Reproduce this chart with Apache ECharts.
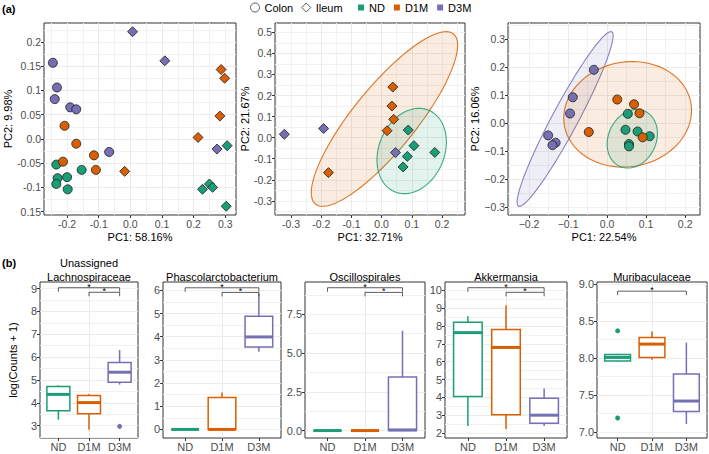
<!doctype html>
<html>
<head>
<meta charset="utf-8">
<title>PCoA and taxa boxplots</title>
<script src="https://cdn.jsdelivr.net/npm/echarts@6/dist/echarts.min.js"></script>
<style>
html, body { margin: 0; padding: 0; background: #fff; }
#chart { width: 709px; height: 454px; }
</style>
</head>
<body>
<div id="chart"></div>
<script>
var FONT = "'Liberation Sans', Arial, sans-serif";
var groups = ['ND', 'D1M', 'D3M'];
var groupColors = ['#1B9E77', '#D95F02', '#7570B3'];

// (a) left: all samples [PC1, PC2]
var allColonND = [[-0.234, -0.053], [-0.230, -0.081], [-0.234, -0.093], [-0.200, -0.079], [-0.198, -0.104], [-0.154, -0.064]];
var allColonD1M = [[-0.208, 0.027], [-0.171, -0.010], [-0.115, -0.034], [-0.109, -0.064], [-0.213, -0.047]];
var allColonD3M = [[-0.245, 0.157], [-0.232, 0.106], [-0.239, 0.082], [-0.190, 0.065], [-0.171, 0.061], [-0.067, -0.027]];
var allIleumND = [[0.306, -0.014], [0.228, -0.104], [0.250, -0.093], [0.260, -0.100], [0.303, -0.139]];
var allIleumD1M = [[0.287, 0.143], [0.298, 0.125], [0.283, 0.047], [0.214, 0.003], [-0.018, -0.067]];
var allIleumD3M = [[0.007, 0.221], [0.109, 0.161], [0.274, -0.021]];

// (a) middle: ileum
var ileumND = [[0.088, 0.036], [0.107, -0.038], [0.176, -0.070], [0.085, -0.089], [0.071, -0.139]];
var ileumD1M = [[0.037, 0.240], [0.034, 0.150], [0.040, 0.087], [0.018, 0.033], [-0.176, -0.166]];
var ileumD3M = [[-0.322, 0.016], [-0.192, 0.043], [0.046, -0.071]];
// ellipse: [group, centre x, centre y, semi-axis u (x, y), conjugate semi-axis v (x, y)]
var ileumEllipses = [[1, 0.0093, 0.0886, 0.2286, 0.4035, 0.0803, -0.0943],
                     [0, 0.0995, -0.0633, 0.0569, 0.1932, 0.0998, -0.0609]];

// (a) right: colon
var colonND = [[0.053, 0.034], [0.047, -0.023], [0.078, -0.029], [0.109, -0.046], [0.056, -0.074], [0.056, -0.082]];
var colonD1M = [[0.026, 0.085], [0.069, 0.068], [0.083, 0.036], [-0.047, -0.031], [0.091, -0.050]];
var colonD3M = [[-0.034, 0.191], [-0.088, 0.093], [-0.095, 0.035], [-0.151, -0.043], [-0.132, -0.069], [-0.140, -0.078]];
var colonEllipses = [[2, -0.1077, 0.0156, 0.1195, 0.3110, 0.0292, -0.0217],
                     [1, 0.0526, 0.0322, 0.1620, 0.0413, 0.0243, -0.1837],
                     [0, 0.0645, -0.0551, 0.0326, 0.0982, 0.0556, -0.0356]];

// tick labels
var allTicksX = [-0.2, -0.1, 0, 0.1, 0.2, 0.3];
var allLabelsX = ['-0.2', '-0.1', '0.0', '0.1', '0.2', '0.3'];
var allTicksY = [-0.15, -0.1, -0.05, 0, 0.05, 0.1, 0.15, 0.2];
var allLabelsY = ['0.15', '-0.1', '-0.05', '0.0', '0.05', '0.1', '0.15', '0.2'];
var ileumTicksX = [-0.3, -0.2, -0.1, 0, 0.1, 0.2];
var ileumLabelsX = ['-0.3', '-0.2', '-0.1', '0.0', '0.1', '0.2'];
var ileumTicksY = [-0.3, -0.2, -0.1, 0, 0.1, 0.2, 0.3, 0.4, 0.5];
var ileumLabelsY = ['-0.3', '-0.2', '-0.1', '0.0', '0.1', '0.2', '0.3', '0.4', '0.5'];
var colonTicksX = [-0.2, -0.1, 0, 0.1, 0.2];
var colonLabelsX = ['\u22120.2', '\u22120.1', '0.0', '0.1', '0.2'];
var colonTicksY = [-0.3, -0.2, -0.1, 0, 0.1, 0.2, 0.3];
var colonLabelsY = ['\u22120.3', '\u22120.2', '\u22120.1', '0.0', '0.1', '0.2', '0.3'];

// (b) boxplots: [min, Q1, median, Q3, max] for ND, D1M, D3M
var taxa = ['Unassigned\nLachnospiraceae', 'Phascolarctobacterium', 'Oscillospirales', 'Akkermansia', 'Muribaculaceae'];
var lachnoBoxes = [[3.26, 3.65, 4.37, 4.71, 4.76], [2.82, 3.52, 4.01, 4.32, 4.39], [4.80, 4.90, 5.34, 5.77, 6.31]];
var lachnoOutliers = [[3, 2.97]];
var phascoBoxes = [[0, 0, 0, 0, 0], [0, 0, 0, 1.38, 1.59], [3.35, 3.56, 3.99, 4.88, 5.86]];
var oscilloBoxes = [[0, 0, 0, 0, 0], [0, 0, 0, 0, 0], [0, 0, 0.04, 3.45, 6.45]];
var akkerBoxes = [[2.40, 4.05, 7.63, 8.21, 8.55], [2.22, 3.02, 6.80, 7.80, 9.16], [2.40, 2.55, 3.00, 3.95, 4.50]];
var muriBoxes = [[7.95, 7.96, 8.01, 8.05, 8.06], [7.98, 8.01, 8.19, 8.28, 8.36], [7.11, 7.28, 7.42, 7.785, 8.21]];
var muriOutliers = [[1, 8.37], [1, 7.19]];
// significance brackets: [from, to, height]
var lachnoSig = [[1, 3, 9.04], [2, 3, 8.84]];
var phascoSig = [[1, 3, 6.11], [2, 3, 5.91]];
var oscilloSig = [[1, 3, 9.22], [2, 3, 8.92]];
var akkerSig = [[1, 3, 10.15], [2, 3, 9.89]];
var muriSig = [[1, 3, 8.906]];
var boxTicksX = [1, 2, 3];

var chart = echarts.init(document.getElementById('chart'), null, { renderer: 'svg' });

function tickLabel(ticks, labels) {
  return function (v) {
    for (var i = 0; i < ticks.length; i++) {
      if (Math.abs(ticks[i] - v) < 1e-9) return labels[i];
    }
    return '';
  };
}

function mainAxis(grid, range, step, ticks, labels, fs, extra) {
  var a = {
    type: 'value', gridIndex: grid, min: range[0], max: range[1],
    minInterval: step, maxInterval: step, z: 1,
    axisLine: { show: false, onZero: false },
    axisTick: { show: true, length: 3, customValues: ticks, lineStyle: { color: '#333', width: 1 } },
    axisLabel: { customValues: ticks, formatter: tickLabel(ticks, labels), color: '#4D4D4D',
                 fontSize: fs, fontFamily: FONT, margin: 3 },
    splitLine: { show: true, showMinLine: false, showMaxLine: false, lineStyle: { color: '#EBEBEB', width: 1 } },
    nameTextStyle: { color: '#000', fontSize: 11, fontFamily: FONT }
  };
  for (var k in extra) a[k] = extra[k];
  return a;
}

function minorAxis(grid, range, step, pos) {
  return {
    type: 'value', gridIndex: grid, min: range[0], max: range[1], position: pos,
    minInterval: step, maxInterval: step, z: 0,
    axisLine: { show: false, onZero: false }, axisTick: { show: false }, axisLabel: { show: false },
    splitLine: { show: true, showMinLine: false, showMaxLine: false, lineStyle: { color: '#F1F1F1', width: 1 } }
  };
}

function hexAlpha(hex, a) {
  var r = parseInt(hex.slice(1, 3), 16), g = parseInt(hex.slice(3, 5), 16), b = parseInt(hex.slice(5, 7), 16);
  return 'rgba(' + r + ',' + g + ',' + b + ',' + a + ')';
}

function renderEllipse(params, api) {
  var g = api.value(0), cx = api.value(1), cy = api.value(2);
  var ux = api.value(3), uy = api.value(4), vx = api.value(5), vy = api.value(6);
  var pts = [];
  for (var k = 0; k < 90; k++) {
    var t = k / 90 * Math.PI * 2;
    pts.push(api.coord([cx + ux * Math.cos(t) + vx * Math.sin(t), cy + uy * Math.cos(t) + vy * Math.sin(t)]));
  }
  return { type: 'polygon', shape: { points: pts },
           style: { fill: hexAlpha(groupColors[g], 0.12), stroke: hexAlpha(groupColors[g], 0.85), lineWidth: 1.1 } };
}

var boxHalfWidth = 0.375;
function renderBox(params, api) {
  var x = api.value(0), c = groupColors[x - 1];
  var lo = api.coord([x, api.value(1)]), q1 = api.coord([x, api.value(2)]), md = api.coord([x, api.value(3)]);
  var q3 = api.coord([x, api.value(4)]), hi = api.coord([x, api.value(5)]);
  var half = api.coord([x + boxHalfWidth, api.value(3)])[0] - md[0];
  return { type: 'group', children: [
    { type: 'line', shape: { x1: hi[0], y1: hi[1], x2: q3[0], y2: q3[1] }, style: { stroke: c, lineWidth: 1.5 } },
    { type: 'line', shape: { x1: q1[0], y1: q1[1], x2: lo[0], y2: lo[1] }, style: { stroke: c, lineWidth: 1.5 } },
    { type: 'rect', shape: { x: md[0] - half, y: q3[1], width: 2 * half, height: Math.max(q1[1] - q3[1], 0) },
      style: { fill: '#fff', stroke: c, lineWidth: 1.5 } },
    { type: 'line', shape: { x1: md[0] - half, y1: md[1], x2: md[0] + half, y2: md[1] }, style: { stroke: c, lineWidth: 3 } }
  ] };
}

function renderSig(params, api) {
  var a = api.coord([api.value(0), api.value(2)]), b = api.coord([api.value(1), api.value(2)]);
  return { type: 'group', children: [
    { type: 'polyline', shape: { points: [[a[0], a[1] + 4], [a[0], a[1]], [b[0], b[1]], [b[0], b[1] + 4]] },
      style: { stroke: '#333', lineWidth: 0.8, fill: 'none' } },
    { type: 'text', x: (a[0] + b[0]) / 2, y: a[1] - 1,
      style: { text: '*', fontSize: 9, fontFamily: FONT, fill: '#000',
               align: 'center', verticalAlign: 'middle', textAlign: 'center', textVerticalAlign: 'middle' } }
  ] };
}

var grids = [], xAxes = [], yAxes = [], series = [], graphics = [];

var topPanels = [
  { grid: { left: 44, top: 23, width: 192, height: 192 }, xRange: [-0.273, 0.334], yRange: [-0.157, 0.239],
    xStep: 0.1, yStep: 0.05, xTicks: allTicksX, xLabels: allLabelsX, yTicks: allTicksY, yLabels: allLabelsY,
    xName: 'PC1: 58.16%', yName: 'PC2: 9.98%', yGap: 28,
    colon: [allColonND, allColonD1M, allColonD3M], ileum: [allIleumND, allIleumD1M, allIleumD3M], ellipses: null },
  { grid: { left: 275, top: 23, width: 190, height: 192 }, xRange: [-0.353, 0.276], yRange: [-0.367, 0.544],
    xStep: 0.1, yStep: 0.1, xTicks: ileumTicksX, xLabels: ileumLabelsX, yTicks: ileumTicksY, yLabels: ileumLabelsY,
    xName: 'PC1: 32.71%', yName: 'PC2: 21.67%', yGap: 20,
    colon: [], ileum: [ileumND, ileumD1M, ileumD3M], ellipses: ileumEllipses },
  { grid: { left: 508, top: 23, width: 192, height: 192 }, xRange: [-0.254, 0.238], yRange: [-0.327, 0.358],
    xStep: 0.1, yStep: 0.1, xTicks: colonTicksX, xLabels: colonLabelsX, yTicks: colonTicksY, yLabels: colonLabelsY,
    xName: 'PC1: 22.54%', yName: 'PC2: 16.06%', yGap: 23,
    colon: [colonND, colonD1M, colonD3M], ileum: [], ellipses: colonEllipses }
];

var boxPanels = [
  { grid: { left: 40, top: 282, width: 98, height: 156 }, boxes: lachnoBoxes, outliers: lachnoOutliers, sig: lachnoSig,
    yRange: [2.46, 9.29], yStep: 1, yTicks: [3, 4, 5, 6, 7, 8, 9], yLabels: ['3', '4', '5', '6', '7', '8', '9'], yName: 'log(Counts + 1)' },
  { grid: { left: 163, top: 282, width: 118, height: 156 }, boxes: phascoBoxes, outliers: [], sig: phascoSig,
    yRange: [-0.37, 6.36], yStep: 1, yTicks: [0, 1, 2, 3, 4, 5, 6], yLabels: ['0', '1', '2', '3', '4', '5', '6'] },
  { grid: { left: 305, top: 282, width: 120, height: 156 }, boxes: oscilloBoxes, outliers: [], sig: oscilloSig,
    yRange: [-0.48, 9.59], yStep: 2.5, yTicks: [0, 2.5, 5, 7.5], yLabels: ['0.0', '2.5', '5.0', '7.5'] },
  { grid: { left: 445, top: 282, width: 122, height: 156 }, boxes: akkerBoxes, outliers: [], sig: akkerSig,
    yRange: [1.72, 10.47], yStep: 1, yTicks: [2, 3, 4, 5, 6, 7, 8, 9, 10], yLabels: ['2', '3', '4', '5', '6', '7', '8', '9', '10'] },
  { grid: { left: 597, top: 282, width: 110, height: 156 }, boxes: muriBoxes, outliers: muriOutliers, sig: muriSig,
    yRange: [6.92, 9.03], yStep: 0.5, yTicks: [7, 7.5, 8, 8.5, 9], yLabels: ['7.0', '7.5', '8.0', '8.5', '9.0'] }
];

function addGrid(g) {
  var o = { show: true, borderColor: '#333', borderWidth: 1, backgroundColor: 'transparent', outerBoundsMode: 'none' };
  for (var k in g) o[k] = g[k];
  grids.push(o);
  return grids.length - 1;
}

topPanels.forEach(function (p) {
  var gi = addGrid(p.grid);
  var xi = xAxes.length, yi = yAxes.length;
  xAxes.push(mainAxis(gi, p.xRange, p.xStep, p.xTicks, p.xLabels, 10.5,
    { position: 'bottom', name: p.xName, nameLocation: 'middle', nameGap: 16 }));
  xAxes.push(minorAxis(gi, p.xRange, p.xStep / 2, 'top'));
  yAxes.push(mainAxis(gi, p.yRange, p.yStep, p.yTicks, p.yLabels, 10.5,
    { position: 'left', name: p.yName, nameLocation: 'middle', nameGap: p.yGap }));
  yAxes.push(minorAxis(gi, p.yRange, p.yStep / 2, 'right'));
  if (p.ellipses) {
    series.push({ type: 'custom', xAxisIndex: xi, yAxisIndex: yi, data: p.ellipses,
      encode: { x: 1, y: 2 }, renderItem: renderEllipse, silent: true, z: 2 });
  }
  [['colon', 'circle', 9], ['ileum', 'diamond', 10]].forEach(function (s) {
    p[s[0]].forEach(function (pts, g) {
      series.push({ name: groups[g], type: 'scatter', xAxisIndex: xi, yAxisIndex: yi, data: pts,
        symbol: s[1], symbolSize: s[2], silent: true, z: 3,
        itemStyle: { color: groupColors[g], borderColor: '#1A1A1A', borderWidth: 0.8, opacity: 1 } });
    });
  });
});

boxPanels.forEach(function (p, n) {
  var gi = addGrid(p.grid);
  var xi = xAxes.length, yi = yAxes.length;
  xAxes.push(mainAxis(gi, [0.4, 3.6], 1, boxTicksX, groups, 11, { position: 'bottom' }));
  var yExtra = { position: 'left' };
  if (p.yName) { yExtra.name = p.yName; yExtra.nameLocation = 'middle'; yExtra.nameGap = 22; }
  yAxes.push(mainAxis(gi, p.yRange, p.yStep, p.yTicks, p.yLabels, 11, yExtra));
  yAxes.push(minorAxis(gi, p.yRange, p.yStep / 2, 'right'));
  series.push({ type: 'custom', xAxisIndex: xi, yAxisIndex: yi, silent: true, z: 2,
    data: p.boxes.map(function (b, i) { return [i + 1].concat(b); }),
    encode: { x: 0, y: [1, 2, 3, 4, 5] }, renderItem: renderBox });
  if (p.outliers.length) {
    series.push({ type: 'scatter', xAxisIndex: xi, yAxisIndex: yi, data: p.outliers, symbolSize: 5, silent: true, z: 3,
      itemStyle: { opacity: 1, color: function (d) { return groupColors[d.value[0] - 1]; } } });
  }
  series.push({ type: 'custom', xAxisIndex: xi, yAxisIndex: yi, data: p.sig, silent: true, z: 3,
    encode: { x: [0, 1], y: 2 }, renderItem: renderSig });
  var cx = p.grid.left + p.grid.width / 2;
  graphics.push({ type: 'text', x: cx, y: taxa[n].indexOf('\n') > 0 ? 270 : 277,
    style: { text: taxa[n], fontSize: 11, fontFamily: FONT, fill: '#000', lineHeight: 14,
             align: 'center', verticalAlign: 'middle', textAlign: 'center', textVerticalAlign: 'middle' } });
});

// empty series only for the shape legend
series.push({ name: 'Colon', type: 'scatter', xAxisIndex: 0, yAxisIndex: 0, data: [] });
series.push({ name: 'Ileum', type: 'scatter', xAxisIndex: 0, yAxisIndex: 0, data: [] });

graphics.push({ type: 'text', x: 2, y: 3, style: { text: '(a)', fontSize: 11, fontWeight: 'bold', fontFamily: FONT, fill: '#000' } });
graphics.push({ type: 'text', x: 2, y: 257, style: { text: '(b)', fontSize: 11, fontWeight: 'bold', fontFamily: FONT, fill: '#000' } });

var legendText = { fontSize: 11, fontFamily: FONT, color: '#000' };
var option = {
  animation: false,
  textStyle: { fontFamily: FONT },
  legend: [
    { left: 250, top: 2, padding: 0, itemGap: 8, itemWidth: 9, itemHeight: 9, selectedMode: false, textStyle: legendText,
      data: [{ name: 'Colon', icon: 'circle', itemStyle: { color: '#fff', borderColor: '#333', borderWidth: 1 } },
             { name: 'Ileum', icon: 'diamond', itemStyle: { color: '#fff', borderColor: '#333', borderWidth: 1 } }] },
    { left: 358, top: 2, padding: 0, itemGap: 9, itemWidth: 6, itemHeight: 6, selectedMode: false, textStyle: legendText,
      data: groups.map(function (g, i) {
        return { name: g, icon: 'rect', itemStyle: { color: groupColors[i], borderWidth: 0 } };
      }) }
  ],
  grid: grids,
  xAxis: xAxes,
  yAxis: yAxes,
  series: series,
  graphic: graphics
};
chart.setOption(option);
</script>
</body>
</html>
